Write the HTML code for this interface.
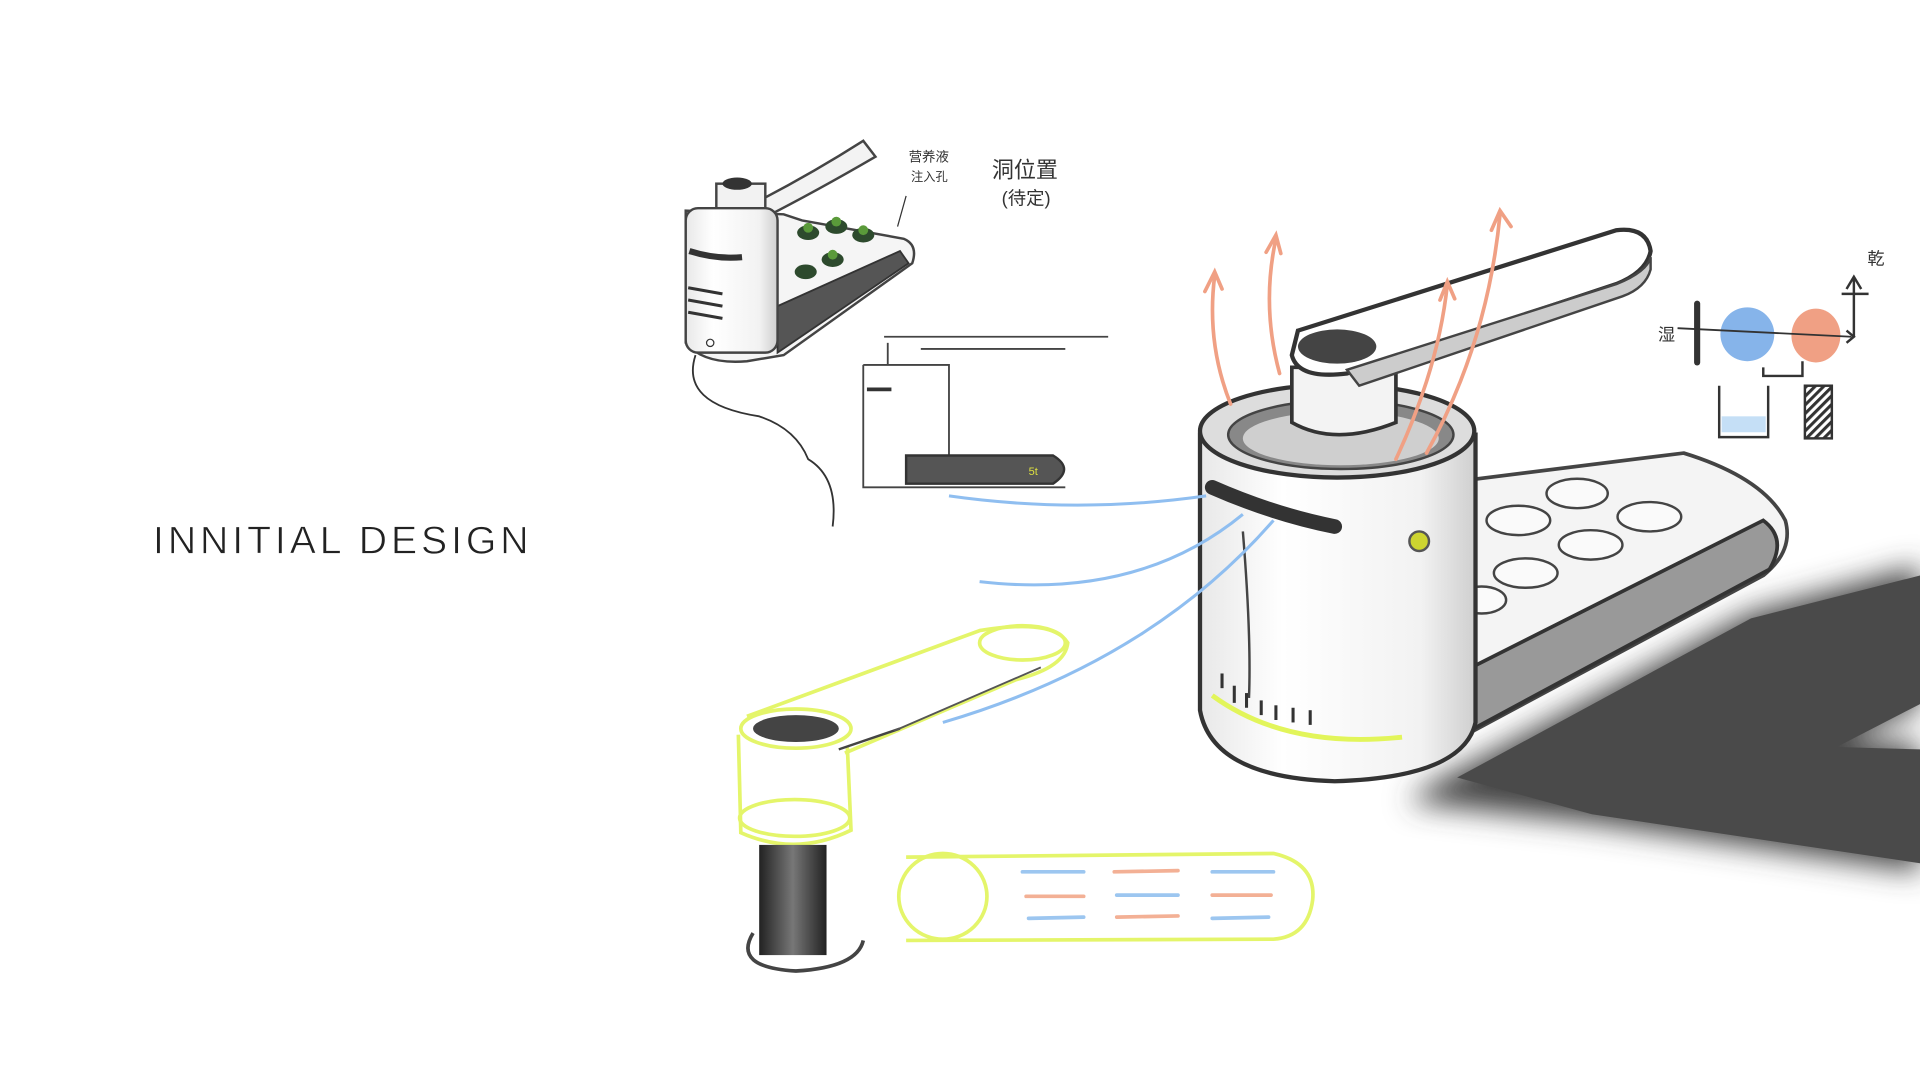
<!DOCTYPE html>
<html><head><meta charset="utf-8"><style>html,body{margin:0;padding:0;background:#fff;width:1920px;height:1080px;overflow:hidden}svg{display:block}</style></head>
<body>
<svg width="1920" height="1080" viewBox="0 0 1568 882" xmlns="http://www.w3.org/2000/svg">
<defs>
<filter id="bl" x="-20%" y="-20%" width="140%" height="140%"><feGaussianBlur stdDeviation="12"/></filter>
<linearGradient id="cyl" x1="0" x2="1"><stop offset="0" stop-color="#e8e8e8"/><stop offset="0.3" stop-color="#fff"/><stop offset="0.8" stop-color="#f2f2f2"/><stop offset="1" stop-color="#cfcfcf"/></linearGradient>
<linearGradient id="dk" x1="0" x2="1"><stop offset="0" stop-color="#222"/><stop offset="0.5" stop-color="#777"/><stop offset="1" stop-color="#222"/></linearGradient>
<pattern id="hatch" width="5" height="5" patternUnits="userSpaceOnUse" patternTransform="rotate(45)"><rect width="2.5" height="5" fill="#333"/></pattern>
</defs>
<text x="125" y="452" font-family="Liberation Sans, sans-serif" font-size="32" fill="#222" letter-spacing="3.2" stroke="#fff" stroke-width="0.6">INNITIAL DESIGN</text>

<!-- shadow -->
<polygon points="1170,640 1430,500 1568,462 1568,578 1505,605 1568,608 1568,712 1300,672 1150,655" fill="#444" filter="url(#bl)"/>
<polygon points="1190,635 1430,505 1568,470 1568,575 1500,610 1568,612 1568,705 1300,665" fill="#4a4a4a"/>

<!-- tray -->
<path d="M1175,395 L1375,370 Q1440,390 1458,425 Q1465,450 1440,470 L1175,612 Z" fill="#f4f4f4" stroke="#444" stroke-width="3"/>
<path d="M1172,560 L1440,425 Q1460,440 1445,465 L1172,612 Z" fill="#999" stroke="#333" stroke-width="3"/>
<g fill="#fafafa" stroke="#444" stroke-width="2">
<ellipse cx="1288" cy="403" rx="25" ry="12"/><ellipse cx="1347" cy="422" rx="26" ry="12"/>
<ellipse cx="1240" cy="425" rx="26" ry="12"/><ellipse cx="1299" cy="445" rx="26" ry="12"/>
<ellipse cx="1246" cy="468" rx="26" ry="12"/><ellipse cx="1210" cy="490" rx="20" ry="11"/>
</g>

<!-- cylinder -->
<path d="M980,355 L980,580 Q990,635 1090,638 Q1195,635 1205,590 L1205,355 Z" fill="url(#cyl)" stroke="#333" stroke-width="3.5"/>
<ellipse cx="1092" cy="352" rx="112" ry="38" fill="#ddd" stroke="#333" stroke-width="3.5"/>
<ellipse cx="1095" cy="355" rx="92" ry="28" fill="#888" stroke="#444" stroke-width="2"/>
<ellipse cx="1095" cy="358" rx="80" ry="22" fill="#cfcfcf"/>
<path d="M990,398 Q1040,420 1090,430" stroke="#333" stroke-width="12" stroke-linecap="round" fill="none"/>
<path d="M1015,434 Q1022,520 1020,570" stroke="#444" stroke-width="2" fill="none"/>
<circle cx="1159" cy="442" r="8" fill="#cdd430" stroke="#555" stroke-width="2"/>
<path d="M990,568 Q1050,612 1145,602" stroke="#e2f55a" stroke-width="4" fill="none"/>
<g stroke="#333" stroke-width="2.5"><line x1="998" y1="550" x2="998" y2="562"/><line x1="1008" y1="560" x2="1008" y2="574"/><line x1="1018" y1="566" x2="1018" y2="578"/><line x1="1030" y1="572" x2="1030" y2="584"/><line x1="1042" y1="576" x2="1042" y2="588"/><line x1="1056" y1="578" x2="1056" y2="590"/><line x1="1070" y1="580" x2="1070" y2="592"/></g>

<!-- handle -->
<path d="M1055,300 L1055,345 Q1090,365 1140,345 L1140,300 Z" fill="#f3f3f3" stroke="#333" stroke-width="3"/>
<path d="M1060,270 L1320,188 Q1345,185 1348,205 Q1345,222 1320,232 L1100,305 Q1060,310 1055,290 Z" fill="#fff" stroke="#333" stroke-width="3.5"/>
<path d="M1100,302 L1320,232 Q1345,222 1348,210 L1348,220 Q1344,235 1325,242 L1110,315 Z" fill="#ccc" stroke="#444" stroke-width="2"/>
<ellipse cx="1092" cy="283" rx="32" ry="14" fill="#444"/>

<!-- orange arrows -->
<g stroke="#f0a084" stroke-width="3" fill="none" stroke-linecap="round">
<path d="M1005,330 Q985,280 992,225"/><path d="M984,238 L992,222 L998,236"/>
<path d="M1045,305 Q1030,250 1042,195"/><path d="M1034,206 L1042,192 L1046,207"/>
<path d="M1140,375 Q1175,300 1182,232"/><path d="M1176,245 L1182,230 L1188,244"/>
<path d="M1165,370 Q1215,280 1225,175"/><path d="M1218,188 L1225,172 L1234,185"/>
</g>

<!-- blue lines -->
<g stroke="#8fbef0" stroke-width="2.5" fill="none">
<path d="M775,405 Q880,420 985,405"/>
<path d="M800,475 Q930,490 1015,420"/>
<path d="M770,590 Q940,540 1040,425"/>
</g>

<!-- small top-left sketch -->
<path d="M588,180 Q650,150 705,115 L715,128 Q660,160 610,185 Z" fill="#f3f3f3" stroke="#444" stroke-width="2"/>
<rect x="585" y="150" width="40" height="30" fill="#f2f2f2" stroke="#444" stroke-width="2"/>
<ellipse cx="602" cy="150" rx="12" ry="5" fill="#333"/>
<path d="M560,172 L560,280 Q575,298 610,295 L640,290 L745,215 Q750,200 738,195 L655,180 L640,175 Z" fill="#f5f5f5" stroke="#444" stroke-width="2"/>
<path d="M635,250 L635,288 L742,215 L735,205 Z" fill="#555" stroke="#333" stroke-width="1.5"/>
<rect x="560" y="170" width="75" height="118" rx="10" fill="url(#cyl)" stroke="#444" stroke-width="2"/>
<path d="M563,205 Q585,212 606,210" stroke="#333" stroke-width="5" fill="none"/>
<g stroke="#333" stroke-width="2.5"><line x1="562" y1="235" x2="590" y2="240"/><line x1="562" y1="245" x2="590" y2="250"/><line x1="562" y1="255" x2="590" y2="260"/></g>
<circle cx="580" cy="280" r="3" fill="none" stroke="#333"/>
<g fill="#2d4a2d"><ellipse cx="660" cy="190" rx="9" ry="6"/><ellipse cx="683" cy="185" rx="9" ry="6"/><ellipse cx="705" cy="192" rx="9" ry="6"/><ellipse cx="658" cy="222" rx="9" ry="6"/><ellipse cx="680" cy="212" rx="9" ry="6"/></g>
<g fill="#5a9a3a"><circle cx="660" cy="186" r="4"/><circle cx="683" cy="181" r="4"/><circle cx="705" cy="188" r="4"/><circle cx="680" cy="208" r="4"/></g>
<path d="M568,290 Q555,330 620,340 Q650,350 660,375 Q685,390 680,430" stroke="#333" stroke-width="1.5" fill="none"/>
<text x="742" y="132" font-family="Liberation Sans, Noto Sans CJK SC, sans-serif" font-size="11" fill="#333">营养液</text>
<text x="744" y="148" font-family="Liberation Sans, Noto Sans CJK SC, sans-serif" font-size="10" fill="#333">注入孔</text>
<path d="M740,160 L733,185" stroke="#333" stroke-width="1"/>
<text x="810" y="145" font-family="Liberation Sans, Noto Sans CJK SC, sans-serif" font-size="18" fill="#333">洞位置</text>
<text x="818" y="167" font-family="Liberation Sans, Noto Sans CJK SC, sans-serif" font-size="15" fill="#333">(待定)</text>

<!-- side view sketch -->
<g stroke="#444" stroke-width="1.5" fill="none">
<path d="M705,298 L705,398 L870,398"/><path d="M722,275 L905,275"/><path d="M725,280 L725,298"/><path d="M705,298 L775,298 L775,375"/><path d="M752,285 L870,285"/>
</g>
<path d="M740,372 L860,372 Q878,383 860,395 L740,395 Z" fill="#555" stroke="#333" stroke-width="2"/>
<text x="840" y="388" font-family="Liberation Sans, sans-serif" font-size="9" fill="#dde040">5t</text>
<line x1="708" y1="318" x2="728" y2="318" stroke="#333" stroke-width="3"/>

<!-- yellow handle sketch -->
<g stroke="#e4f56a" stroke-width="3" fill="none">
<path d="M610,585 L800,515 Q860,505 872,525 Q870,545 830,555 L690,615"/>
<ellipse cx="835" cy="525" rx="35" ry="14"/>
<ellipse cx="650" cy="595" rx="45" ry="16"/>
<path d="M603,600 L605,680 Q650,700 695,678 L692,610"/>
<ellipse cx="649" cy="668" rx="45" ry="15"/>
<path d="M740,700 L1040,697 Q1075,705 1072,735 Q1068,765 1040,767 L740,768"/>
<ellipse cx="770" cy="732" rx="36" ry="35"/>
</g>
<ellipse cx="650" cy="595" rx="35" ry="11" fill="#444"/>
<path d="M685,612 L735,595" stroke="#444" stroke-width="2"/>
<path d="M730,597 L850,545" stroke="#555" stroke-width="1.5"/>
<rect x="620" y="690" width="55" height="90" fill="url(#dk)"/>
<path d="M615,762 Q598,790 650,793 Q700,790 705,768" stroke="#444" stroke-width="3" fill="none"/>
<g stroke-width="3" stroke-linecap="round">
<line x1="835" y1="712" x2="885" y2="712" stroke="#9cc6f0"/><line x1="910" y1="712" x2="962" y2="711" stroke="#f3b095"/><line x1="990" y1="712" x2="1040" y2="712" stroke="#9cc6f0"/>
<line x1="838" y1="732" x2="885" y2="732" stroke="#f3b095"/><line x1="912" y1="731" x2="962" y2="731" stroke="#9cc6f0"/><line x1="990" y1="731" x2="1038" y2="731" stroke="#f3b095"/>
<line x1="840" y1="750" x2="885" y2="749" stroke="#9cc6f0"/><line x1="912" y1="749" x2="962" y2="748" stroke="#f3b095"/><line x1="990" y1="750" x2="1036" y2="749" stroke="#9cc6f0"/>
</g>

<!-- top right diagram -->
<circle cx="1427" cy="273" r="22" fill="#86b4ea"/>
<ellipse cx="1483" cy="274" rx="20" ry="22" fill="#f0a084"/>
<line x1="1386" y1="248" x2="1386" y2="296" stroke="#333" stroke-width="5" stroke-linecap="round"/>
<path d="M1370,268 L1512,275" stroke="#333" stroke-width="1.5"/>
<path d="M1508,270 L1514,275 L1508,280" stroke="#333" stroke-width="2" fill="none"/>
<path d="M1514,275 L1514,228 M1508,236 L1514,226 L1520,236 M1504,240 L1526,240" stroke="#333" stroke-width="2" fill="none"/>
<path d="M1472,295 L1472,307 L1440,307 L1440,300" stroke="#333" stroke-width="2" fill="none"/>
<path d="M1404,315 L1404,357 L1444,357 L1444,315" stroke="#333" stroke-width="2" fill="none"/>
<rect x="1406" y="340" width="36" height="13" fill="#c5dff6"/>
<rect x="1474" y="315" width="22" height="43" fill="url(#hatch)" stroke="#333" stroke-width="2"/>
<text x="1354" y="278" font-family="Liberation Sans, Noto Sans CJK SC, sans-serif" font-size="14" fill="#333">湿</text>
<text x="1525" y="216" font-family="Liberation Sans, Noto Sans CJK SC, sans-serif" font-size="14" fill="#333">乾</text>
</svg>
</body></html>
